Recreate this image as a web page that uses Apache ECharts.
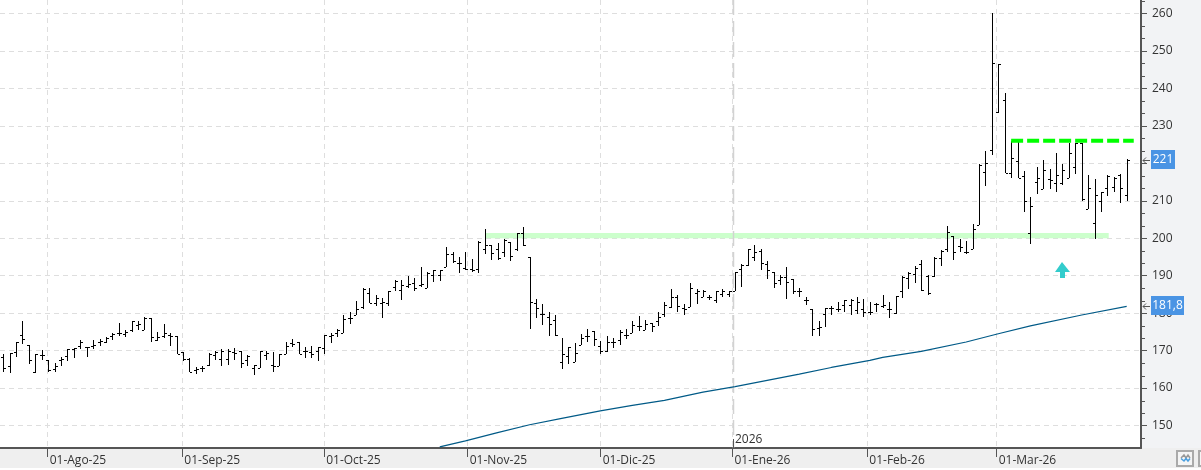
<!DOCTYPE html>
<html>
<head>
<meta charset="utf-8">
<title>Gráfico de barras diarias</title>
<style>
  html, body { margin: 0; padding: 0; background: #fff; }
  #chart { width: 1201px; height: 470px; }
</style>
<script src="https://cdn.jsdelivr.net/npm/echarts@6/dist/echarts.min.js"></script>
</head>
<body>
<div id="chart"></div>
<script>
// Daily price bars, one entry per session.
const opens = [
  168.4,165.9,169.5,174.2,171.4,164.3,168.9,167.5,165.0,167.5,
  168.6,170.4,171.1,170.9,171.3,172.4,172.4,173.9,174.8,174.5,
  175.5,176.9,175.5,178.7,172.7,173.8,174.1,173.8,169.5,167.7,
  164.9,165.3,166.2,168.9,167.8,167.8,169.5,170.0,167.4,165.3,
  165.3,168.9,166.2,165.8,169.1,172.0,172.4,169.8,169.6,169.8,
  170.8,174.0,174.6,174.6,178.6,179.5,181.6,185.3,182.7,182.7,
  182.7,187.1,186.2,187.3,188.0,187.5,186.6,190.2,190.2,192.4,
  195.8,193.5,192.0,191.7,191.7,197.0,198.2,197.0,196.4,199.1,
  197.0,201.5,194.9,182.8,179.7,178.9,178.2,166.9,168.5,167.0,
  171.4,173.9,175.2,171.1,169.8,172.2,172.7,174.2,174.6,176.6,
  175.5,177.3,178.0,179.8,181.6,184.2,181.3,181.6,185.3,184.4,
  184.2,183.5,185.1,185.1,186.0,191.7,192.8,195.0,196.7,193.0,
  191.1,188.9,189.6,189.0,186.0,183.4,181.0,176.0,179.8,181.3,
  181.1,182.2,182.2,180.9,181.1,180.4,182.4,181.9,181.1,180.0,
  186.0,189.3,190.5,193.0,190.0,189.9,194.6,197.0,200.6,197.8,
  196.4,197.0,203.4,217.6,223.6,233.6,237.0,217.3,220.5,216.6,
  201.3,214.9,213.2,215.7,214.7,214.7,216.0,218.9,225.3,207.9,
  204.0,210.0,213.3,213.8,216.9,211.6
];
const highs = [
  169.0,169.3,172.2,177.9,171.4,169.0,170.1,167.5,166.6,168.3,
  170.4,170.7,172.8,171.0,172.7,173.1,173.6,174.6,177.3,175.4,
  177.9,177.9,178.9,178.7,175.0,177.0,174.6,173.8,169.5,168.0,
  165.7,166.0,169.3,169.8,170.4,170.4,170.7,170.0,168.8,166.1,
  169.8,169.9,169.6,169.1,172.4,173.1,172.4,171.0,171.1,171.0,
  174.3,174.8,175.9,179.5,180.2,183.3,186.7,186.7,184.9,184.0,
  185.9,188.9,188.8,189.9,189.3,192.3,190.9,191.4,191.5,197.6,
  196.3,194.9,196.3,194.4,199.2,202.4,198.2,198.7,199.7,199.1,
  201.3,202.9,194.9,183.7,182.4,180.2,179.5,173.4,171.0,172.1,
  174.5,175.7,175.2,172.6,173.8,173.3,175.5,175.7,177.8,179.2,
  178.2,177.3,180.2,183.0,186.4,184.8,182.4,188.0,186.5,186.2,
  184.9,185.9,186.4,186.0,191.1,193.2,197.2,198.2,197.2,193.9,
  191.1,190.2,192.3,189.0,186.6,184.3,181.0,177.9,181.3,182.0,
  183.0,183.5,183.7,184.3,183.7,183.1,182.6,184.9,183.1,184.5,
  189.9,190.9,192.5,194.1,190.1,195.0,196.8,203.3,200.6,199.8,
  199.2,203.8,219.7,223.3,260.0,246.5,238.7,226.0,226.0,217.9,
  211.0,219.0,220.9,218.4,222.7,219.8,225.5,225.5,225.3,216.8,
  215.7,212.3,216.9,216.3,217.2,221.1
];
const lows = [
  164.4,164.1,168.4,171.8,166.4,164.0,167.4,164.2,164.4,165.9,
  167.1,167.9,170.5,168.4,170.3,171.3,172.0,172.7,173.9,173.5,
  175.1,175.5,175.4,172.2,172.5,173.3,171.1,169.2,167.1,164.2,
  163.7,164.4,166.0,167.4,165.8,166.2,167.4,165.3,166.0,163.6,
  165.3,167.4,164.4,165.8,169.0,170.9,169.0,168.1,167.9,167.3,
  169.0,172.1,173.5,174.6,177.0,179.4,181.1,182.7,181.8,178.8,
  182.0,185.8,183.6,186.6,186.0,186.9,186.6,188.2,188.7,192.4,
  193.5,190.8,191.4,191.1,190.6,195.8,194.2,194.2,195.0,193.8,
  196.7,197.9,175.7,178.6,176.9,174.0,174.0,165.0,166.5,167.0,
  171.4,172.4,171.1,169.0,169.5,170.6,171.5,173.2,174.6,175.2,
  175.4,175.1,176.7,179.1,181.5,180.2,179.6,181.6,182.5,184.2,
  183.5,182.8,184.4,184.3,186.0,187.1,192.6,194.0,191.5,189.2,
  186.8,187.4,183.9,185.1,184.2,182.1,174.0,173.8,176.4,179.5,
  180.4,180.2,179.5,179.7,179.1,179.4,180.2,181.5,178.8,179.9,
  184.1,186.5,188.0,185.9,184.9,189.7,192.7,196.3,194.3,196.2,
  195.8,197.0,203.4,214.0,222.2,233.3,217.3,216.0,216.0,207.1,
  198.5,211.9,213.2,213.1,212.4,214.3,216.0,217.2,209.9,207.9,
  199.7,207.1,211.4,212.4,209.5,210.0
];
const closes = [
  165.3,169.3,172.2,173.1,167.5,169.0,168.9,164.7,166.0,167.7,
  170.4,170.6,172.2,170.9,171.6,172.5,173.3,174.4,174.6,175.1,
  177.8,177.1,178.7,173.6,173.6,174.8,173.8,169.2,167.7,164.2,
  165.0,165.3,169.1,169.6,169.8,169.8,169.3,166.8,168.6,166.1,
  169.8,169.3,166.0,169.0,171.3,171.8,169.0,169.8,169.0,170.9,
  174.2,174.2,175.4,178.4,178.6,181.1,186.4,182.7,184.0,183.1,
  185.9,188.6,187.4,187.7,186.7,187.7,190.8,191.4,191.4,195.8,
  194.0,193.3,191.9,191.5,199.1,198.2,196.0,194.7,199.4,195.3,
  201.3,198.2,183.1,181.3,179.7,177.0,174.1,169.0,171.0,169.3,
  173.3,174.0,173.1,169.8,172.2,172.2,175.1,174.2,176.9,176.6,
  177.0,176.7,178.9,182.2,184.2,181.9,181.1,186.7,185.8,185.8,
  184.2,185.8,186.0,185.8,190.9,192.8,197.2,196.4,193.3,191.5,
  188.0,189.6,188.3,186.0,186.0,183.4,175.7,176.4,181.3,181.3,
  181.1,183.5,183.4,183.1,180.4,180.4,182.4,182.2,181.1,184.5,
  189.7,190.6,192.0,186.2,185.3,194.6,196.7,201.6,196.4,197.6,
  196.4,202.5,219.6,220.0,246.9,246.5,217.3,221.3,216.0,210.0,
  208.5,216.0,218.2,215.5,216.9,218.2,222.7,225.5,210.4,213.3,
  211.5,212.3,216.7,216.0,213.3,221.0
];

// Long moving average: [session, value].
const movingAverage = [
  [68,144.3],[72,145.9],[77,148.1],[82,150.2],[87,151.9],[93,153.9],[98,155.4],
  [103,156.7],[109,158.9],[114,160.4],[124,163.7],[129,165.5],[135,167.4],
  [137,168.2],[143,169.8],[150,172.3],[155,174.5],[160,176.6],[168,179.5],[175,181.8]
];

// Month marks sit between sessions when the 1st was not a trading day.
const monthPositions = [6.93, 27.9, 50, 72.35, 93.07, 113.6, 134.6, 154.75];
const monthLabels = ['01-Ago-25','01-Sep-25','01-Oct-25','01-Nov-25','01-Dic-25','01-Ene-26','01-Feb-26','01-Mar-26'];
const yearPosition = 113.6;
const yearLabel = '2026';

const priceTicks = [150,160,170,180,190,200,210,220,230,240,250,260];
const priceMinorTicks = [
  146.67,153.33,156.67,163.33,166.67,173.33,176.67,183.33,186.67,193.33,196.67,
  203.33,206.67,213.33,216.67,223.33,226.67,233.33,236.67,243.33,246.67,253.33,256.67,263.33
];

// Hand-drawn studies.
const supportBand = { from: 75.1, to: 172.2, top: 201.4, bottom: 200.0 };
const resistanceLine = [[157, 226], [176.1, 226]];
const arrowMark = [165, 191.5];
const lastValues = [[221, '221'], [181.8, '181,8']];

const FONT = '"Open Sans", "Noto Sans", sans-serif';
const PLOT_RIGHT = 1141, PLOT_BOTTOM = 448;

const chart = echarts.init(document.getElementById('chart'));

function renderBar(params, api) {
  const i = api.value(0);
  const x = Math.round(api.coord([i, 0])[0]);
  const yH = Math.round(api.coord([i, api.value(2)])[1]);
  const yL = Math.round(api.coord([i, api.value(3)])[1]);
  const yO = Math.round(api.coord([i, api.value(1)])[1]);
  const yC = Math.round(api.coord([i, api.value(4)])[1]);
  const black = { fill: '#000' };
  return {
    type: 'group',
    children: [
      { type: 'rect', shape: { x: x, y: yH, width: 1, height: Math.max(1, yL - yH) }, style: black },
      { type: 'rect', shape: { x: x - 2, y: yO, width: 2, height: 1 }, style: black },
      { type: 'rect', shape: { x: x + 1, y: yC, width: 2, height: 1 }, style: black }
    ]
  };
}

function renderBand(params, api) {
  const a = api.coord([api.value(0), api.value(2)]);
  const b = api.coord([api.value(1), api.value(3)]);
  return {
    type: 'rect',
    shape: { x: a[0], y: a[1], width: b[0] - a[0], height: b[1] - a[1] },
    style: { fill: '#ccffcc' }
  };
}

function renderYearMark(params, api) {
  const x = Math.round(api.coord([api.value(0), 200])[0]) + 0.5;
  return {
    type: 'group',
    children: [
      { type: 'line', shape: { x1: x, y1: 0, x2: x, y2: PLOT_BOTTOM },
        style: { stroke: '#d2d2d2', lineWidth: 1.5, lineDash: [15, 6] } },
      { type: 'line', shape: { x1: x, y1: 439, x2: x, y2: PLOT_BOTTOM },
        style: { stroke: '#555', lineWidth: 1 } },
      { type: 'text', x: x + 1.5, y: 440,
        style: { text: yearLabel, fill: '#333', font: '12px ' + FONT, textVerticalAlign: 'middle' } }
    ]
  };
}

function renderArrow(params, api) {
  const p = api.coord([api.value(0), api.value(1)]);
  const x = Math.round(p[0]), y = Math.round(p[1]);
  return {
    type: 'polygon',
    shape: { points: [
      [x, y - 8], [x + 8, y + 2], [x + 3, y + 2], [x + 3, y + 8],
      [x - 2, y + 8], [x - 2, y + 2], [x - 7, y + 2]
    ] },
    style: { fill: '#33cccc' }
  };
}

// Short ticks between the labelled prices, on the outer side of the price axis.
function renderMinorTick(params, api) {
  const y = Math.round(api.coord([0, api.value(0)])[1]) + 0.5;
  return {
    type: 'line',
    shape: { x1: PLOT_RIGHT, y1: y, x2: PLOT_RIGHT + 4, y2: y },
    style: { stroke: '#555', lineWidth: 1 }
  };
}

function renderValueTag(params, api) {
  const y = Math.round(api.coord([0, api.value(0)])[1]);
  const text = lastValues[params.dataIndex][1];
  const w = text.length > 3 ? 33 : 24;
  const arrow = { stroke: '#555', lineWidth: 1, fill: 'none' };
  return {
    type: 'group',
    children: [
      { type: 'polyline', shape: { points: [[1150, y + 0.5], [1143, y + 0.5]] }, style: arrow },
      { type: 'polyline', shape: { points: [[1146, y - 2.5], [1143, y + 0.5], [1146, y + 3.5]] }, style: arrow },
      { type: 'rect', shape: { x: 1151, y: y - 10, width: w, height: 19 }, style: { fill: '#4a94e4' } },
      { type: 'text', x: 1151 + w / 2, y: y,
        style: { text: text, fill: '#fff', font: '12px ' + FONT, textAlign: 'center', textVerticalAlign: 'middle' } }
    ]
  };
}

chart.setOption({
  animation: false,
  backgroundColor: '#fff',
  grid: { left: 0, top: 0, width: PLOT_RIGHT, height: PLOT_BOTTOM, containLabel: false },
  graphic: [
    { type: 'rect', z: -10, silent: true, shape: { x: 0, y: PLOT_BOTTOM, width: 1201, height: 20 }, style: { fill: '#efefef' } },
    { type: 'rect', z: -10, silent: true, shape: { x: PLOT_RIGHT, y: 0, width: 60, height: PLOT_BOTTOM }, style: { fill: '#f2f3f5' } },
    { type: 'rect', z: 5, silent: true, shape: { x: 1177, y: 451, width: 16, height: 15 },
      style: { fill: '#f5f5f5', stroke: '#aaaaaa', lineWidth: 2 } },
    { type: 'rect', z: 5, silent: true, shape: { x: 1199, y: 451, width: 6, height: 15 },
      style: { fill: '#f5f5f5', stroke: '#aaaaaa', lineWidth: 2 } },
    { type: 'polyline', z: 6, silent: true, shape: { points: [[1181,458],[1184,455],[1186,458],[1188,455],[1190,458]] },
      style: { stroke: '#999999', lineWidth: 1.5, fill: 'none' } },
    { type: 'polyline', z: 6, silent: true, shape: { points: [[1181,458.5],[1184,461],[1186,458.5],[1188,461],[1190,458.5]] },
      style: { stroke: '#4a9fe0', lineWidth: 1.5, fill: 'none' } }
  ],
  xAxis: {
    type: 'value',
    min: -0.5,
    max: 177.23,
    axisLine: { show: true, onZero: false, lineStyle: { color: '#555', width: 2 } },
    axisTick: { show: true, length: 9, customValues: monthPositions, lineStyle: { color: '#555', width: 1 } },
    splitLine: { show: true, lineStyle: { color: '#dedede', type: [5, 4], width: 1 } },
    axisLabel: {
      show: true,
      customValues: monthPositions,
      margin: 7,
      align: 'left',
      color: '#333',
      fontFamily: FONT,
      fontSize: 12,
      padding: [0, 0, 0, 2],
      formatter: function (v) {
        return monthLabels[monthPositions.indexOf(v)] || '';
      }
    }
  },
  yAxis: {
    type: 'value',
    position: 'right',
    min: 144,
    max: 263.6,
    axisLine: { show: true, onZero: false, lineStyle: { color: '#555', width: 2 } },
    axisTick: { show: true, length: 6, customValues: priceTicks, lineStyle: { color: '#555' } },
    splitLine: { show: true, lineStyle: { color: '#dedede', type: [5, 4], width: 1 } },
    axisLabel: { show: true, customValues: priceTicks, margin: 11, color: '#333', fontFamily: FONT, fontSize: 12 }
  },
  series: [
    {
      name: 'Soporte',
      type: 'custom',
      renderItem: renderBand,
      silent: true,
      data: [[supportBand.from, supportBand.to, supportBand.top, supportBand.bottom]],
      encode: { x: [0, 1], y: [2, 3] }
    },
    {
      name: 'Año',
      type: 'custom',
      renderItem: renderYearMark,
      silent: true,
      clip: false,
      data: [[yearPosition]],
      encode: { x: 0 }
    },
    {
      name: 'Media',
      type: 'line',
      data: movingAverage,
      showSymbol: false,
      symbol: 'none',
      silent: true,
      lineStyle: { color: '#005a87', width: 1.2 }
    },
    {
      name: 'Precio',
      type: 'custom',
      renderItem: renderBar,
      silent: true,
      encode: { x: 0, y: [1, 2, 3, 4] },
      data: opens.map((o, i) => [i, o, highs[i], lows[i], closes[i]])
    },
    {
      name: 'Resistencia',
      type: 'line',
      data: resistanceLine,
      symbol: 'none',
      silent: true,
      lineStyle: { color: '#00ff00', width: 4, type: [12, 4] }
    },
    {
      name: 'Flecha',
      type: 'custom',
      renderItem: renderArrow,
      silent: true,
      data: [arrowMark],
      encode: { x: 0, y: 1 }
    },
    {
      name: 'Marcas',
      type: 'custom',
      renderItem: renderMinorTick,
      silent: true,
      clip: false,
      data: priceMinorTicks.map(v => [v]),
      encode: { y: 0 }
    },
    {
      name: 'Último',
      type: 'custom',
      renderItem: renderValueTag,
      silent: true,
      clip: false,
      z: 10,
      data: lastValues.map(d => [d[0]]),
      encode: { y: 0 }
    }
  ]
});
</script>
</body>
</html>
